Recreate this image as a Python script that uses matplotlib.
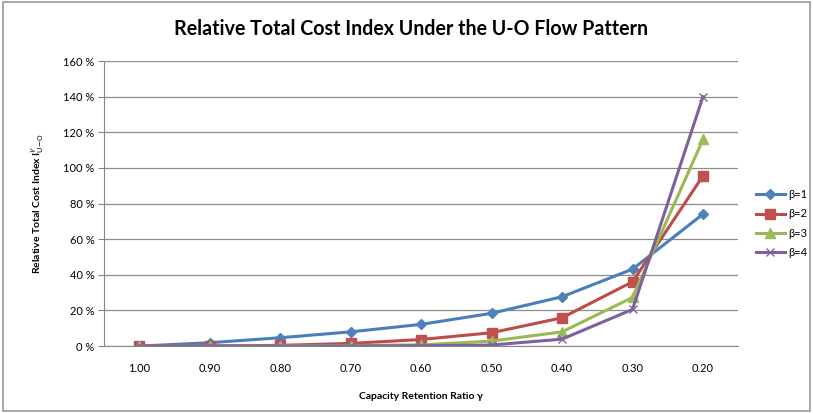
import matplotlib.pyplot as plt
from matplotlib.patches import Rectangle
from matplotlib.ticker import FuncFormatter

# capacity retention ratio categories and relative total cost index (%)
gamma_labels = ['1.00', '0.90', '0.80', '0.70', '0.60', '0.50', '0.40', '0.30', '0.20']
beta1 = [0.0, 1.9, 4.7, 8.0, 12.2, 18.4, 27.7, 43.2, 74.1]
beta2 = [0.0, 0.1, 0.4, 1.5, 3.7, 7.5, 15.9, 36.1, 95.6]
beta3 = [0.0, 0.0, 0.1, 0.3, 0.7, 2.8, 8.0, 27.3, 116.0]
beta4 = [0.0, 0.0, 0.0, 0.0, 0.2, 0.6, 3.9, 20.6, 140.0]
series_names = ['β=1', 'β=2', 'β=3', 'β=4']

font = ['Lato', 'DejaVu Sans']
plt.rcParams['font.family'] = font

fig = plt.figure(figsize=(8.13, 4.13), dpi=100)
fig.patches.append(Rectangle((0.004, 0.006), 0.992, 0.99, transform=fig.transFigure,
                             fill=False, edgecolor='#9a9a9a', linewidth=1.2))
ax = fig.add_axes([0.128, 0.162, 0.78, 0.69])

x = range(len(gamma_labels))
styles = [
    dict(color='#4A7EBB', marker='D', markersize=5, mfc='#4F81BD', mec='#4F81BD'),
    dict(color='#BE4B48', marker='s', markersize=6.5, mfc='#C0504D', mec='#C0504D'),
    dict(color='#98B954', marker='^', markersize=7, mfc='#9BBB59', mec='#9BBB59'),
    dict(color='#7D60A0', marker='x', markersize=6, mfc='#8064A2', mec='#8064A2', mew=1.0),
]
for vals, name, st in zip([beta1, beta2, beta3, beta4], series_names, styles):
    ax.plot(x, vals, linewidth=2.2, label=name, **st)

ax.set_xlim(-0.5, len(gamma_labels) - 0.5)
ax.set_ylim(0, 160)
ax.set_yticks(range(0, 161, 20))
ax.yaxis.set_major_formatter(FuncFormatter(lambda v, p: '%d %%' % v))
ax.set_xticks(list(x))
ax.set_xticklabels(gamma_labels)
ax.grid(axis='y', color='#8c8c8c', linewidth=0.9)
ax.set_axisbelow(True)
for s in ['top', 'right']:
    ax.spines[s].set_visible(False)
for s in ['left', 'bottom']:
    ax.spines[s].set_color('#868686')
ax.tick_params(axis='y', length=4, color='#868686', labelsize=8, pad=3)
ax.tick_params(axis='x', length=0, labelsize=8, pad=12)

ax.set_xlabel('Capacity Retention Ratio γ', fontsize=7.5, fontweight='bold', labelpad=13)
ax.set_ylabel(r'Relative Total Cost Index I$^{\gamma}_{\mathrm{U\!-\!O}}$', fontsize=7.5,
              fontweight='bold', labelpad=12)

fig.suptitle('Relative Total Cost Index Under the U-O Flow Pattern', x=0.505, y=0.955,
             fontsize=14.1, fontweight='bold')

ax.legend(loc='center left', bbox_to_anchor=(1.012, 0.43), frameon=False, fontsize=8,
          handlelength=2.6, labelspacing=0.75, handletextpad=0.3)

fig.savefig('out.png', dpi=100)
